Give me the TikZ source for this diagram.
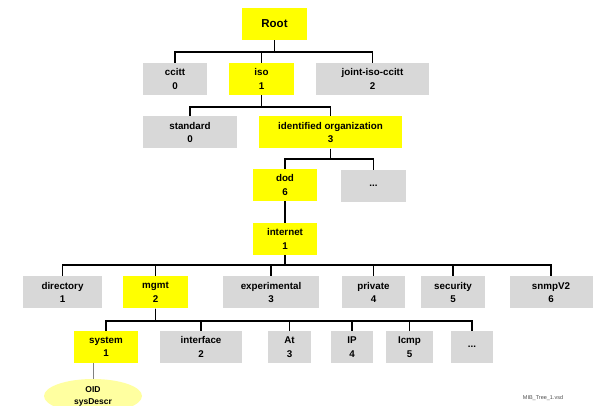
\documentclass[tikz,border=0pt]{standalone}
\usepackage{fontspec}
\setmainfont{Liberation Sans}
\usepackage{tikz}
\usetikzlibrary{shapes.geometric}
\definecolor{boxgray}{RGB}{216,216,216}
\definecolor{boxyellow}{RGB}{255,255,0}
\definecolor{oidyellow}{RGB}{255,255,160}
\tikzset{
  box/.style={minimum height=32pt, inner sep=0pt, align=center,
    font=\bfseries\fontsize{9.8}{13.5}\selectfont},
  yel/.style={box, fill=boxyellow},
  gry/.style={box, fill=boxgray},
  tree/.style={line width=1.8pt, black}
}
\begin{document}
\begin{tikzpicture}[x=1pt,y=-1pt]
\useasboundingbox (0,0) rectangle (595,406);

% top
\node[yel, minimum width=65pt, font=\bfseries\fontsize{11.5}{13}\selectfont] (root) at (274.5,24) {Root};

\node[gry, minimum width=64pt]  (ccitt) at (175,79)   {ccitt\\0};
\node[yel, minimum width=65pt]  (iso)   at (261.5,79) {iso\\1};
\node[gry, minimum width=113pt] (joint) at (372.5,79) {joint-iso-ccitt\\2};

\node[gry, minimum width=94pt]  (standard) at (190,132.5)   {standard\\0};
\node[yel, minimum width=143pt] (identorg) at (330.5,132.5) {identified organization\\3};

\node[yel, minimum width=64pt] (dod)   at (285,185)   {dod\\6};
\node[gry, minimum width=65pt] (dotsa) at (373.5,186) {...};

\node[yel, minimum width=64pt] (internet) at (285,239) {internet\\1};

% internet subtree
\node[gry, minimum width=79pt] (directory)    at (62.5,292.5)  {directory\\1};
\node[yel, minimum width=65pt] (mgmt)         at (155.5,292.5) {mgmt\\2};
\node[gry, minimum width=96pt] (experimental) at (271,292.5)   {experimental\\3};
\node[gry, minimum width=63pt] (private)      at (373.5,292.5) {private\\4};
\node[gry, minimum width=64pt] (security)     at (453,292.5)   {security\\5};
\node[gry, minimum width=83pt] (snmpv)        at (551,292.5)   {snmpV2\\6};

% mgmt subtree
\node[yel, minimum width=64pt] (system)    at (106,347)   {system\\1};
\node[gry, minimum width=82pt] (interface) at (201,347)   {interface\\2};
\node[gry, minimum width=43pt] (at)        at (289.5,347) {At\\3};
\node[gry, minimum width=42pt] (ip)        at (352,347)   {IP\\4};
\node[gry, minimum width=47pt] (icmp)      at (409.5,347) {Icmp\\5};
\node[gry, minimum width=42pt] (dotsb)     at (472,347)   {...};

\node[ellipse, fill=oidyellow, minimum width=98pt, minimum height=34pt, inner sep=0pt,
  align=center, font=\bfseries\fontsize{8.5}{12}\selectfont] (oid) at (93,396) {OID\\sysDescr};

\node[font=\fontsize{5.5}{6}\selectfont, text=black!70] (fname) at (543,398) {MIB\_Tree\_1.vsd};

% connectors
\foreach \c in {ccitt,iso,joint}
  \draw[tree] (root.south) -- ++(0,12) -| (\c.north);
\foreach \c in {standard,identorg}
  \draw[tree] (iso.south) -- ++(0,12) -| (\c.north);
\foreach \c in {dod,dotsa}
  \draw[tree] (identorg.south) -- ++(0,10) -| (\c.north);
\draw[tree] (dod.south) -- (internet.north);
\foreach \c in {directory,mgmt,experimental,private,security,snmpv}
  \draw[tree] (internet.south) -- ++(0,10) -| (\c.north);
\foreach \c in {system,interface,at,ip,icmp,dotsb}
  \draw[tree] (mgmt.south) -- ++(0,12) -| (\c.north);
\draw[black!50, line width=0.6pt] (system.south -| oid.north) -- (oid.north);

\end{tikzpicture}
\end{document}
